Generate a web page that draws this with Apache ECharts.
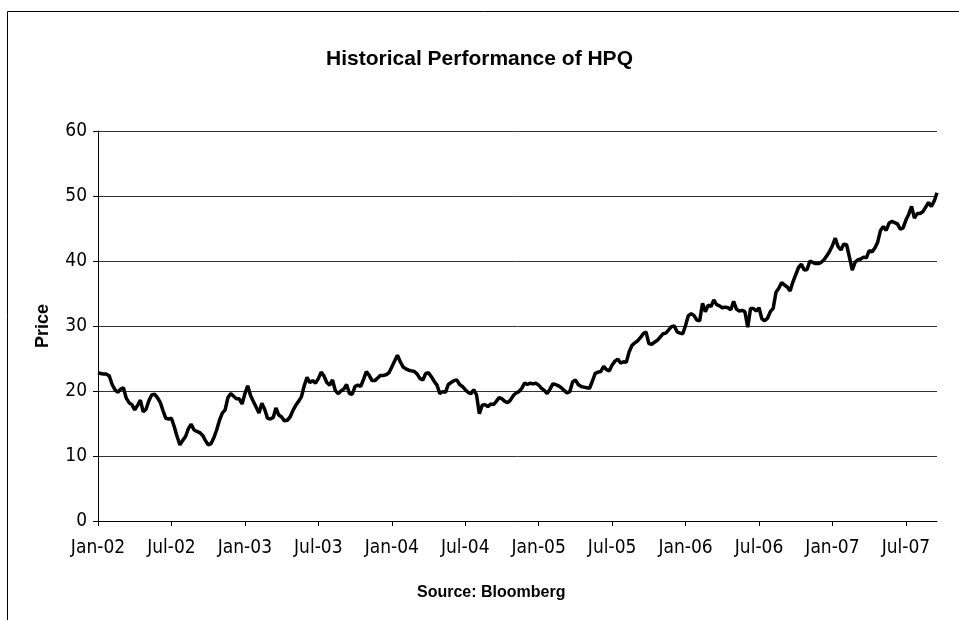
<!DOCTYPE html>
<html>
<head>
<meta charset="utf-8">
<title>Historical Performance of HPQ</title>
<script src="https://cdn.jsdelivr.net/npm/echarts@6/dist/echarts.min.js"></script>
<style>
  html, body { margin: 0; padding: 0; background: #fff; }
  #chart { width: 959px; height: 620px; }
</style>
</head>
<body>
<div id="chart"></div>
<script>
// weekly closes, Jan-02 .. Oct-07
const prices = [
  22.8, 22.7, 22.6, 22.6, 22.3, 21.0, 20.2, 19.8, 20.3, 20.5,
  18.9, 18.2, 17.9, 17.1, 17.8, 18.6, 16.8, 17.2, 18.5, 19.4,
  19.5, 19.0, 18.3, 17.0, 15.8, 15.7, 15.8, 14.5, 13.0, 11.7,
  12.4, 13.0, 14.2, 14.9, 14.0, 13.8, 13.6, 13.2, 12.4, 11.7,
  11.9, 12.8, 14.0, 15.5, 16.6, 17.1, 19.0, 19.6, 19.2, 18.8,
  18.8, 18.0, 19.6,
  20.8, 19.3, 18.4, 17.5, 16.6, 18.1, 17.2, 15.8, 15.7, 15.9,
  17.4, 16.3, 16.0, 15.4, 15.5, 16.0, 17.0, 17.8, 18.4, 19.1,
  20.8, 22.1, 21.3, 21.6, 21.2, 21.9, 22.9, 22.3, 21.3, 20.9,
  21.7, 20.1, 19.6, 20.0, 20.3, 21.0, 19.6, 19.5, 20.7, 20.9,
  20.7, 21.8, 23.0, 22.4, 21.6, 21.6, 22.0, 22.4,
  22.4, 22.5, 22.8, 23.7, 24.6, 25.5, 24.5, 23.7, 23.4, 23.2,
  23.1, 23.0, 22.6, 21.9, 21.7, 22.7, 22.8, 22.2, 21.5, 20.9,
  19.6, 19.9, 19.8, 21.0, 21.3, 21.6, 21.7, 21.0, 20.7, 20.2,
  19.8, 19.6, 20.2, 19.4, 16.5, 17.8, 17.9, 17.6, 18.0, 17.9,
  18.4, 19.0, 18.8, 18.4, 18.2, 18.6, 19.3, 19.7, 19.9, 20.4,
  21.2,
  21.0, 21.2, 21.1, 21.2, 20.9, 20.4, 20.1, 19.6, 20.3, 21.1,
  21.0, 20.8, 20.5, 20.1, 19.7, 19.9, 21.4, 21.7, 21.0, 20.7,
  20.6, 20.5, 20.4, 21.5, 22.7, 22.9, 23.0, 23.8, 23.3, 23.1,
  24.0, 24.6, 24.9, 24.3, 24.5, 24.4, 26.0, 27.0, 27.4, 27.7,
  28.2, 28.8, 29.1, 27.3, 27.2, 27.5, 27.8, 28.3, 28.8,
  28.9, 29.4, 29.9, 30.0, 29.1, 28.9, 28.8, 30.1, 31.6, 31.9,
  31.6, 30.9, 30.8, 33.5, 32.2, 33.2, 33.0, 34.0, 33.3, 33.1,
  32.8, 32.9, 32.8, 32.5, 33.8, 32.6, 32.3, 32.4, 32.2, 29.8,
  32.7, 32.7, 32.3, 32.8, 31.1, 30.8, 31.2, 32.2, 32.7, 35.2,
  35.8, 36.7, 36.3, 36.0, 35.4, 36.8, 37.9,
  39.0, 39.5, 38.6, 38.7, 40.0, 39.8, 39.6, 39.6, 39.8, 40.2,
  40.8, 41.5, 42.4, 43.5, 42.2, 41.7, 42.6, 42.5, 40.6, 38.6,
  39.8, 40.2, 40.3, 40.6, 40.5, 41.6, 41.4, 42.0, 42.9, 44.7,
  45.3, 44.7, 45.8, 46.1, 45.9, 45.7, 44.9, 45.1, 46.3, 47.2,
  48.4, 46.6, 47.3, 47.3, 47.6, 48.3, 49.0, 48.4, 49.2, 50.5
]

// one label every 26 weeks
const tickLabels = ['Jan-02', 'Jul-02', 'Jan-03', 'Jul-03', 'Jan-04', 'Jul-04',
  'Jan-05', 'Jul-05', 'Jan-06', 'Jul-06', 'Jan-07', 'Jul-07']
const weeksPerTick = 26

const weeks = prices.map((_, i) => String(i))

const font = 'DejaVu Sans Condensed, Liberation Sans, sans-serif'
const boldFont = 'Liberation Sans, Arial, sans-serif'

const chart = echarts.init(document.getElementById('chart'))

chart.setOption({
  animation: false,
  backgroundColor: '#fff',
  textStyle: { fontFamily: font, color: '#000' },
  title: [
    {
      text: 'Historical Performance of HPQ',
      left: 'center',
      top: 44,
      textStyle: { fontFamily: boldFont, fontSize: 21, fontWeight: 'bold', color: '#000' },
    },
    {
      // source note sits a little left of the plot centre
      text: 'Source: Bloomberg',
      left: 412,
      top: 580,
      textStyle: { fontFamily: boldFont, fontSize: 16, fontWeight: 'bold', color: '#000' },
    },
  ],
  // outer chart border, cut off on the right and bottom
  graphic: [
    {
      type: 'rect',
      left: 5,
      top: 9,
      shape: { width: 1000, height: 700 },
      style: { fill: 'none', stroke: '#000', lineWidth: 1 },
      silent: true,
    },
  ],
  grid: {
    left: 98,
    right: 22,
    top: 131,
    bottom: 99,
  },
  xAxis: {
    type: 'category',
    data: weeks,
    boundaryGap: false,
    axisLine: { lineStyle: { color: '#000', width: 1 } },
    axisTick: { show: true, interval: weeksPerTick - 1, length: 5, lineStyle: { color: '#000' } },
    axisLabel: {
      interval: weeksPerTick - 1,
      margin: 18,
      fontSize: 19,
      color: '#000',
      formatter: (v, i) => tickLabels[i / weeksPerTick] || '',
    },
    splitLine: { show: false },
  },
  yAxis: {
    type: 'value',
    min: 0,
    max: 60,
    interval: 10,
    name: 'Price',
    nameLocation: 'middle',
    nameRotate: 90,
    nameGap: 46,
    nameTextStyle: { fontFamily: boldFont, fontSize: 18, fontWeight: 'bold', color: '#000' },
    axisLine: { show: true, lineStyle: { color: '#000', width: 1 } },
    axisTick: { show: true, length: 5, lineStyle: { color: '#000' } },
    axisLabel: { margin: 11, fontSize: 19, color: '#000' },
    splitLine: { show: true, lineStyle: { color: '#333', width: 1 } },
  },
  series: [
    {
      name: 'HPQ',
      type: 'line',
      data: prices,
      showSymbol: false,
      lineStyle: { color: '#000', width: 3.5 },
      itemStyle: { color: '#000' },
    },
  ],
})
</script>
</body>
</html>
